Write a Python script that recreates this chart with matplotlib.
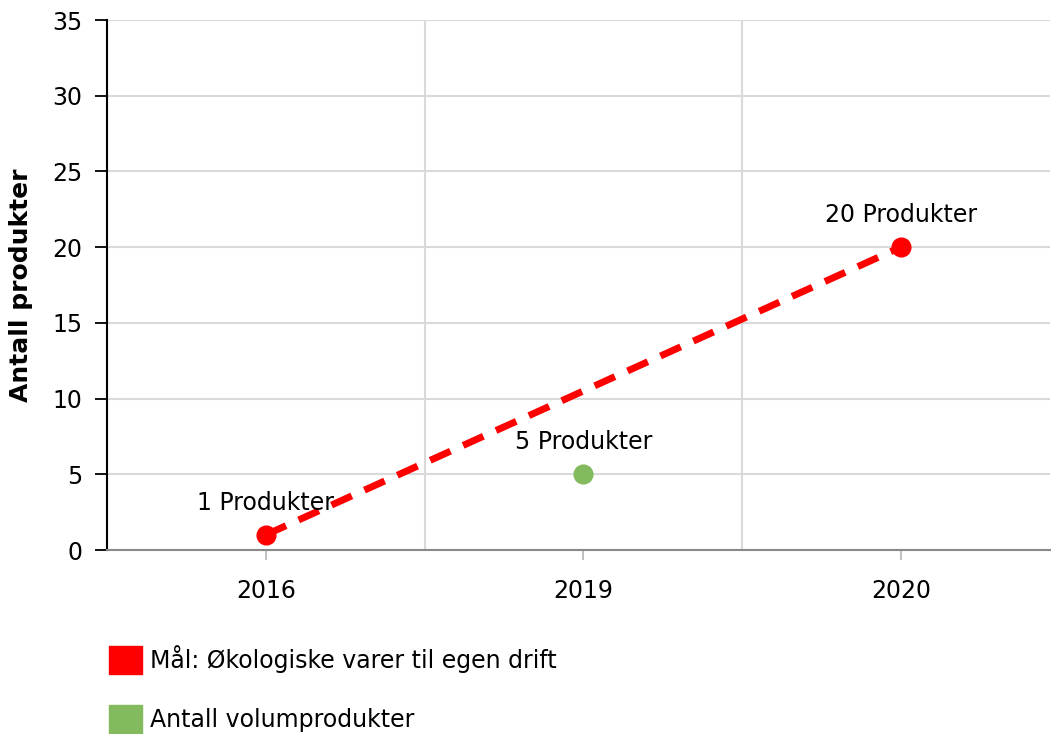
import matplotlib.pyplot as plt
from matplotlib.patches import Patch

# chart data
years = ["2016", "2019", "2020"]
goal_x = [0, 2]
goal_y = [1, 20]
goal_labels = ["1 Produkter", "20 Produkter"]
volume_x = [1]
volume_y = [5]
volume_labels = ["5 Produkter"]

red = "#FF0000"
green = "#84BA5E"

plt.rcParams['font.family'] = ['DejaVu Sans']
fs = 17

fig = plt.figure(figsize=(10.51, 7.34), dpi=100)
ax = fig.add_axes([107 / 1051, 1 - 550 / 734, 943 / 1051, 530 / 734])

ax.plot(goal_x, goal_y, color=red, lw=5, ls=(0, (3.2, 2.0)),
        marker="o", markersize=13.5, zorder=3)
ax.plot(volume_x, volume_y, color=green, lw=0, marker="o", markersize=13.5, zorder=3)

for x, y, t in zip(goal_x, goal_y, goal_labels):
    ax.annotate(t, (x, y), xytext=(0, 23), textcoords="offset points",
                ha="center", va="center", fontsize=fs, zorder=4)
for x, y, t in zip(volume_x, volume_y, volume_labels):
    ax.annotate(t, (x, y), xytext=(0, 23), textcoords="offset points",
                ha="center", va="center", fontsize=fs, zorder=4)

ax.set_xlim(-0.5, 2.47)
ax.set_ylim(0, 35)
ax.set_yticks(range(0, 36, 5))
ax.set_xticks(range(len(years)))
ax.set_xticklabels(years)
ax.set_xticks([0.5, 1.5], minor=True)

ax.grid(axis="y", which="major", color="#D9D9D9", lw=1.5)
ax.grid(axis="x", which="minor", color="#D9D9D9", lw=1.5)
ax.grid(axis="x", which="major", visible=False)
ax.set_axisbelow(True)

for s in ["top", "right"]:
    ax.spines[s].set_visible(False)
ax.spines["left"].set_color("black")
ax.spines["left"].set_linewidth(1.5)
ax.spines["bottom"].set_color("#898989")
ax.spines["bottom"].set_linewidth(1.5)

ax.tick_params(axis="y", length=8.5, width=1.3, color="black", pad=9, labelsize=fs)
ax.tick_params(axis="x", which="major", length=7, width=1.3, color="#BBBBBB",
               pad=14, labelsize=fs)
ax.tick_params(axis="x", which="minor", length=0)

ax.set_ylabel("Antall produkter", fontsize=18, fontweight="bold", labelpad=14)

handles = [Patch(color=red, label="Mål: Økologiske varer til egen drift"),
           Patch(color=green, label="Antall volumprodukter")]
fig.legend(handles=handles, loc="upper left", bbox_to_anchor=(90 / 1051, 1 - 626 / 734),
           frameon=False, fontsize=fs, handlelength=1.4, handleheight=1.5,
           handletextpad=0.35, labelspacing=1.3, borderpad=0.3)

fig.savefig("out.png", dpi=100)
